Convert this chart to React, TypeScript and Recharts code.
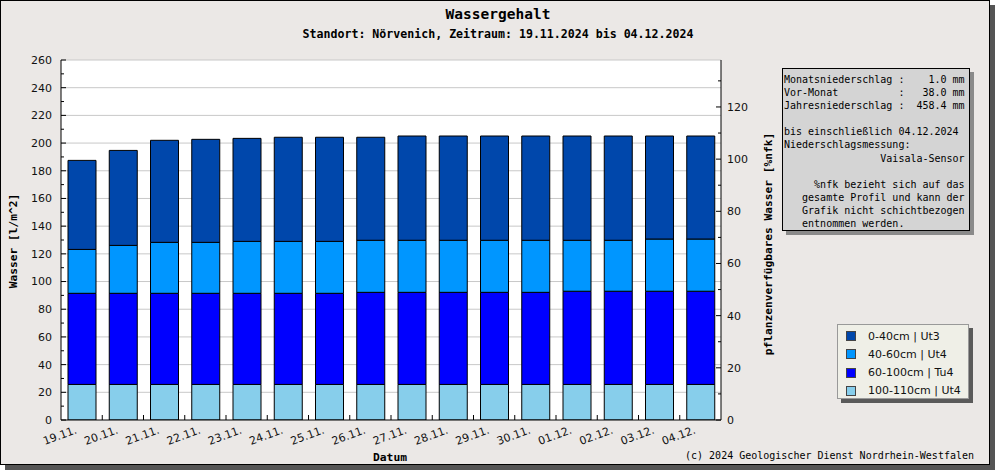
import React from "react";
import { BarChart, Bar, XAxis, YAxis, CartesianGrid } from "recharts";

const dates = ["19.11.", "20.11.", "21.11.", "22.11.", "23.11.", "24.11.", "25.11.", "26.11.", "27.11.", "28.11.", "29.11.", "30.11.", "01.12.", "02.12.", "03.12.", "04.12."];
const layer0to40 = [64.3, 68.6, 73.7, 74.4, 74.4, 75.2, 75.2, 74.4, 75.3, 75.3, 75.3, 75.3, 75.3, 75.3, 74.4, 74.4];
const layer40to60 = [31.7, 34.6, 36.8, 36.8, 37.5, 37.5, 37.5, 37.6, 37.6, 37.6, 37.6, 37.6, 36.8, 36.8, 37.7, 37.7];
const layer60to100 = [65.8, 65.8, 65.8, 65.8, 65.8, 65.8, 65.8, 66.5, 66.5, 66.5, 66.5, 66.5, 67.3, 67.3, 67.3, 67.3];
const layer100to110 = [25.7, 25.7, 25.7, 25.7, 25.7, 25.7, 25.7, 25.7, 25.7, 25.7, 25.7, 25.7, 25.7, 25.7, 25.7, 25.7];

const leftTicks = [0, 10, 20, 30, 40, 50, 60, 70, 80, 90, 100, 110, 120, 130, 140, 150, 160, 170, 180, 190, 200, 210, 220, 230, 240, 250, 260];
const rightTicks = [0, 10, 20, 30, 40, 50, 60, 70, 80, 90, 100, 110, 120, 130];
const gridValues = [20, 40, 60, 80, 100, 120, 140, 160, 180, 200, 220, 240, 260];

const titleText = "Wassergehalt";
const subtitleText = "Standort: Nörvenich, Zeitraum: 19.11.2024 bis 04.12.2024";
const leftAxisTitle = "Wasser [l/m^2]";
const rightAxisTitle = "pflanzenverfügbares Wasser [%nfk]";
const xAxisTitle = "Datum";
const copyrightText = "(c) 2024 Geologischer Dienst Nordrhein-Westfalen";
const infoLines = [
  "Monatsniederschlag :    1.0 mm",
  "Vor-Monat          :   38.0 mm",
  "Jahresniederschlag :  458.4 mm",
  "",
  "bis einschließlich 04.12.2024",
  "Niederschlagsmessung:",
  "                Vaisala-Sensor",
  "",
  "     %nfk bezieht sich auf das",
  "   gesamte Profil und kann der",
  "   Grafik nicht schichtbezogen",
  "   entnommen werden.",
];

const series = [
  { key: "l100", name: "100-110cm | Ut4", color: "#87ceeb", values: layer100to110 },
  { key: "l60", name: "60-100cm | Tu4", color: "#0000ff", values: layer60to100 },
  { key: "l40", name: "40-60cm | Ut4", color: "#0096ff", values: layer40to60 },
  { key: "l0", name: "0-40cm | Ut3", color: "#0047ab", values: layer0to40 },
];

const data = dates.map((d, i) => {
  const row: any = { date: d };
  series.forEach((s) => {
    row[s.key] = s.values[i];
  });
  return row;
});

const MONO = "'DejaVu Sans Mono', monospace";
const SANS = "'DejaVu Sans', sans-serif";

const W = 995;
const H = 470;
const PLOT_LEFT = 61;
const PLOT_RIGHT = 721;
const PLOT_TOP = 60;
const PLOT_BOTTOM = 420;
const LEFT_AXIS_W = 50;
const RIGHT_AXIS_W = 50;
const X_AXIS_H = 40;
const L_MARGIN = 9;
const R_MARGIN = 6;
const BAND = (PLOT_RIGHT - PLOT_LEFT) / dates.length;

const LeftTick = (props: any) => {
  const { x, y, payload } = props;
  const v = payload.value;
  const ax = x + L_MARGIN;
  const major = v % 20 === 0;
  return (
    <g>
      <line x1={ax} x2={ax + (major ? 5 : 3)} y1={y} y2={y} stroke="#000" />
      {major && (
        <text x={x} y={y} dy="0.36em" textAnchor="end" fontFamily={SANS} fontSize={11} fill="#111">
          {v}
        </text>
      )}
    </g>
  );
};

const RightTick = (props: any) => {
  const { x, y, payload } = props;
  const v = payload.value;
  const ax = x - R_MARGIN;
  const major = v % 20 === 0;
  return (
    <g>
      <line x1={ax} x2={ax - (major ? 5 : 3)} y1={y} y2={y} stroke="#000" />
      {major && (
        <text x={x} y={y} dy="0.36em" textAnchor="start" fontFamily={SANS} fontSize={11} fill="#111">
          {v}
        </text>
      )}
    </g>
  );
};

const BottomTick = (props: any) => {
  const { x, y, payload, index } = props;
  const tx = x - 4;
  const ty = y + 13;
  return (
    <g>
      {index < dates.length - 1 && (
        <line x1={x + BAND / 2} x2={x + BAND / 2} y1={y} y2={y - 5} stroke="#000" />
      )}
      <text
        x={tx}
        y={ty}
        textAnchor="end"
        transform={`rotate(-20 ${tx} ${ty})`}
        fontFamily={SANS}
        fontSize={11}
        fill="#111"
      >
        {payload.value}
      </text>
    </g>
  );
};

const legendOrder = [...series].reverse();

export default function App() {
  return (
    <div style={{ position: "absolute", left: 0, top: 0, width: W, height: H }}>
      <div
        style={{
          position: "absolute",
          left: 0,
          top: 0,
          width: 990,
          height: 465,
          boxSizing: "border-box",
          border: "1px solid #000",
          background: "#ebe8e6",
          boxShadow: "5px 5px 0 #555",
        }}
      />
      <div style={{ position: "absolute", left: 0, top: 0 }}>
        <BarChart
          width={W}
          height={H}
          data={data}
          margin={{
            top: PLOT_TOP,
            left: PLOT_LEFT - LEFT_AXIS_W,
            right: W - PLOT_RIGHT - RIGHT_AXIS_W,
            bottom: H - PLOT_BOTTOM - X_AXIS_H,
          }}
        >
          <CartesianGrid
            yAxisId="left"
            vertical={false}
            horizontalValues={gridValues}
            stroke="#c8c8c8"
            fill="#ffffff"
            fillOpacity={1}
          />
          <XAxis
            dataKey="date"
            height={X_AXIS_H}
            interval={0}
            tickSize={0}
            tickMargin={0}
            tickLine={false}
            axisLine={{ stroke: "#000" }}
            tick={BottomTick}
          />
          <YAxis
            yAxisId="left"
            orientation="left"
            width={LEFT_AXIS_W}
            domain={[0, 260]}
            ticks={leftTicks}
            interval={0}
            allowDataOverflow
            tickSize={0}
            tickMargin={L_MARGIN}
            tickLine={false}
            axisLine={{ stroke: "#000" }}
            tick={LeftTick}
          />
          <YAxis
            yAxisId="right"
            orientation="right"
            width={RIGHT_AXIS_W}
            domain={[0, 138]}
            ticks={rightTicks}
            interval={0}
            allowDataOverflow
            tickSize={0}
            tickMargin={R_MARGIN}
            tickLine={false}
            axisLine={{ stroke: "#000" }}
            tick={RightTick}
          />
          {series.map((s) => (
            <Bar
              key={s.key}
              dataKey={s.key}
              name={s.name}
              yAxisId="left"
              stackId="a"
              fill={s.color}
              stroke="#000"
              strokeWidth={1}
              barSize={28}
              isAnimationActive={false}
            />
          ))}
        </BarChart>
      </div>
      <svg
        width={W}
        height={H}
        style={{ position: "absolute", left: 0, top: 0, pointerEvents: "none" }}
      >
        <text x={498} y={19} textAnchor="middle" fontFamily={MONO} fontWeight="bold" fontSize={14.5} fill="#000">
          {titleText}
        </text>
        <text x={498} y={38} textAnchor="middle" fontFamily={MONO} fontWeight="bold" fontSize={11.6} fill="#000">
          {subtitleText}
        </text>
        <text
          x={13}
          y={241}
          textAnchor="middle"
          dy="0.35em"
          transform="rotate(-90 13 241)"
          fontFamily={MONO}
          fontWeight="bold"
          fontSize={11.2}
          fill="#000"
        >
          {leftAxisTitle}
        </text>
        <text
          x={768}
          y={244}
          textAnchor="middle"
          dy="0.35em"
          transform="rotate(-90 768 244)"
          fontFamily={MONO}
          fontWeight="bold"
          fontSize={11.2}
          fill="#000"
        >
          {rightAxisTitle}
        </text>
        <text x={390} y={461} textAnchor="middle" fontFamily={MONO} fontWeight="bold" fontSize={11.3} fill="#000">
          {xAxisTitle}
        </text>
        <text x={974} y={459} textAnchor="end" fontFamily={MONO} fontSize={10} fill="#000">
          {copyrightText}
        </text>
      </svg>
      <div
        style={{
          position: "absolute",
          left: 782,
          top: 68,
          width: 188,
          height: 163,
          boxSizing: "border-box",
          border: "1px solid #000",
          background: "#d4d4d4",
          boxShadow: "4px 4px 0 #8a8a8a",
          padding: "4px 0 0 1px",
          fontFamily: MONO,
          fontSize: 10,
          lineHeight: "13.1px",
          whiteSpace: "pre",
          color: "#000",
        }}
      >
        {infoLines.map((l, i) => (
          <div key={i} style={{ height: 13.1 }}>
            {l}
          </div>
        ))}
      </div>
      <div
        style={{
          position: "absolute",
          left: 837,
          top: 324,
          width: 132,
          height: 75,
          boxSizing: "border-box",
          border: "1px solid #999",
          background: "#efefe7",
          boxShadow: "4px 4px 0 #5a5a5a",
          fontFamily: SANS,
          fontSize: 11,
          color: "#111",
        }}
      >
        {legendOrder.map((s, i) => (
          <div
            key={s.key}
            style={{
              position: "absolute",
              left: 8,
              top: 2 + i * 18.3,
              height: 18,
              display: "flex",
              alignItems: "center",
              whiteSpace: "nowrap",
            }}
          >
            <div
              style={{
                width: 10,
                height: 10,
                boxSizing: "border-box",
                background: s.color,
                border: "1px solid #444",
                marginRight: 12,
              }}
            />
            <span>{s.name}</span>
          </div>
        ))}
      </div>
    </div>
  );
}
